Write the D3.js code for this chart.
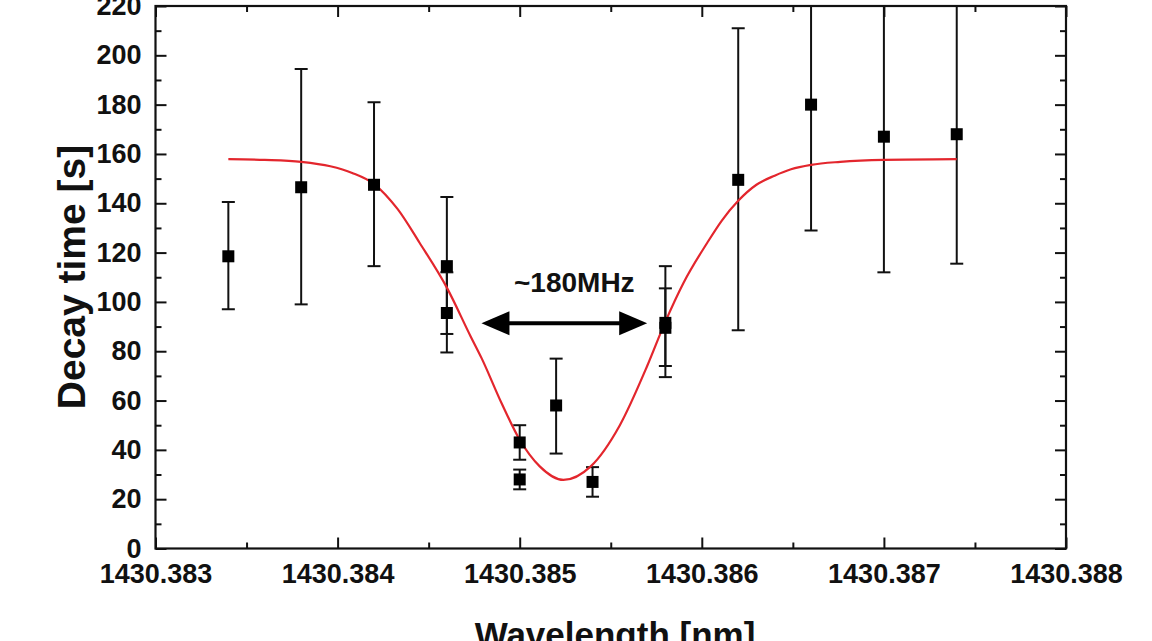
<!DOCTYPE html>
<html lang="en">
<head>
	<title>decay time vs wavelength</title>
	<meta charset="utf-8" />
	<script src="https://cdnjs.cloudflare.com/ajax/libs/d3/7.8.5/d3.min.js"></script>
	<style>
		body { margin: 0; background: #fff; }
		svg { display: block; font-family: "Liberation Sans", Arial, sans-serif; }
	</style>
</head>
<body>
	<svg width="1152" height="641"></svg>
	<script>
		// measured points (two measurements at some wavelengths)
		let wavelength = [1430.3834, 1430.3838, 1430.3842, 1430.3846, 1430.3846, 1430.3850, 1430.3850,
			1430.3852, 1430.3854, 1430.3858, 1430.3858, 1430.3862, 1430.3866, 1430.3870, 1430.3874];
		let decay = [118.5, 146.5, 147.5, 114.5, 95.5, 43, 28, 58, 27, 91.5, 89.5, 149.5, 180, 167, 168];
		let errLow = [97, 99, 114.5, 87, 79.5, 36, 24, 38.5, 21, 69.5, 74, 88.5, 129, 112, 115.5];
		let errHigh = [140.5, 194.5, 181, 142.5, 112, 50, 32, 77, 33, 114.5, 105.5, 211, 232, 222.5, 220.5];

		// fitted curve
		let fitWavelength = [1430.38340, 1430.38360, 1430.38380, 1430.38396, 1430.38408, 1430.38420,
			1430.38433, 1430.38445, 1430.38460, 1430.38473, 1430.38479, 1430.38490, 1430.38500,
			1430.38511, 1430.38524, 1430.38539, 1430.38555, 1430.38570, 1430.38580, 1430.38590,
			1430.38603, 1430.38611, 1430.38620, 1430.38630, 1430.38640, 1430.38649, 1430.38660,
			1430.38676, 1430.38700, 1430.38740];
		let fitDecay = [157.9, 157.6, 156.8, 155.0, 152.3, 147.8, 137.6, 124.0, 105.8, 86.1, 77.3,
			59.0, 44.1, 33.3, 27.8, 33.3, 50.0, 74.0, 92.0, 107.8, 124.0, 133.0, 141.0, 147.5, 151.2,
			153.8, 155.6, 156.8, 157.6, 157.9];

		let xTicks = [1430.383, 1430.384, 1430.385, 1430.386, 1430.387, 1430.388];
		let yTicks = [0, 20, 40, 60, 80, 100, 120, 140, 160, 180, 200, 220];

		// FWHM annotation
		let arrowSpan = [1430.38479, 1430.38570];
		let arrowLevel = 91.3;
		let arrowText = '~180MHz';

		let svg = d3.select('svg');
		let pLeft = 155.5, pRight = 1066, pTop = 6, pBottom = 548.5;

		let x = d3.scaleLinear().domain([1430.383, 1430.388]).range([pLeft, pRight]);
		let y = d3.scaleLinear().domain([0, 220]).range([pBottom, pTop]);

		svg.append('clipPath').attr('id', 'plot')
			.append('rect')
			.attr('x', pLeft).attr('y', pTop)
			.attr('width', pRight - pLeft).attr('height', pBottom - pTop);

		// minor ticks at the halfway points
		let xMinor = d3.range(1430.3835, 1430.388, 0.001);
		let yMinor = d3.range(10, 220, 20);

		function drawAxis(axis, tr) {
			return svg.append('g')
				.attr('transform', tr)
				.call(axis)
				.call(g => g.select('.domain').remove())
				.call(g => g.selectAll('line').attr('stroke', '#111').attr('stroke-width', 2));
		}

		let fmtX = d3.format('.3f');
		// bottom
		drawAxis(d3.axisBottom(x).tickValues(xTicks).tickSize(-11).tickPadding(15).tickFormat(fmtX), `translate(0,${pBottom})`);
		drawAxis(d3.axisBottom(x).tickValues(xMinor).tickSize(-6).tickFormat(''), `translate(0,${pBottom})`);
		// top
		drawAxis(d3.axisTop(x).tickValues(xTicks).tickSize(-11).tickFormat(''), `translate(0,${pTop})`);
		drawAxis(d3.axisTop(x).tickValues(xMinor).tickSize(-6).tickFormat(''), `translate(0,${pTop})`);
		// left
		drawAxis(d3.axisLeft(y).tickValues(yTicks).tickSize(-11).tickPadding(14), `translate(${pLeft},0)`);
		drawAxis(d3.axisLeft(y).tickValues(yMinor).tickSize(-6).tickFormat(''), `translate(${pLeft},0)`);
		// right
		drawAxis(d3.axisRight(y).tickValues(yTicks).tickSize(-11).tickFormat(''), `translate(${pRight},0)`);
		drawAxis(d3.axisRight(y).tickValues(yMinor).tickSize(-6).tickFormat(''), `translate(${pRight},0)`);

		svg.selectAll('.tick text')
			.attr('font-family', '"Liberation Sans", Arial, sans-serif')
			.attr('font-size', 27)
			.attr('font-weight', 'bold')
			.attr('fill', '#111');

		svg.append('rect')
			.attr('x', pLeft).attr('y', pTop)
			.attr('width', pRight - pLeft).attr('height', pBottom - pTop)
			.attr('fill', 'none')
			.attr('stroke', '#111')
			.attr('stroke-width', 2.2);

		let plot = svg.append('g').attr('clip-path', 'url(#plot)');

		let pts = wavelength.map((w, i) => ({ w: w, v: decay[i], lo: errLow[i], hi: errHigh[i] }));

		// error bars
		let bars = plot.selectAll('g.err')
			.data(pts)
			.enter()
			.append('g')
			.attr('class', 'err')
			.attr('stroke', '#111')
			.attr('stroke-width', 2);
		bars.append('line')
			.attr('x1', d => x(d.w)).attr('x2', d => x(d.w))
			.attr('y1', d => y(d.lo)).attr('y2', d => y(d.hi));
		bars.append('line')
			.attr('x1', d => x(d.w) - 6.5).attr('x2', d => x(d.w) + 6.5)
			.attr('y1', d => y(d.lo)).attr('y2', d => y(d.lo));
		bars.append('line')
			.attr('x1', d => x(d.w) - 6.5).attr('x2', d => x(d.w) + 6.5)
			.attr('y1', d => y(d.hi)).attr('y2', d => y(d.hi));

		// fit
		let line = d3.line()
			.x(d => x(d[0]))
			.y(d => y(d[1]))
			.curve(d3.curveMonotoneX);
		plot.append('path')
			.datum(fitWavelength.map((w, i) => [w, fitDecay[i]]))
			.attr('d', line)
			.attr('fill', 'none')
			.attr('stroke', '#e3262d')
			.attr('stroke-width', 2.2);

		// markers
		plot.selectAll('rect.pt')
			.data(pts)
			.enter()
			.append('rect')
			.attr('class', 'pt')
			.attr('x', d => x(d.w) - 6)
			.attr('y', d => y(d.v) - 6)
			.attr('width', 12)
			.attr('height', 12)
			.attr('fill', '#000');

		// double arrow
		let ax1 = x(arrowSpan[0]), ax2 = x(arrowSpan[1]), ay = y(arrowLevel);
		let headLen = 28, headHalf = 12;
		svg.append('line')
			.attr('x1', ax1 + headLen - 4).attr('x2', ax2 - headLen + 4)
			.attr('y1', ay).attr('y2', ay)
			.attr('stroke', '#000')
			.attr('stroke-width', 4);
		svg.append('path')
			.attr('d', `M${ax1},${ay} L${ax1 + headLen},${ay - headHalf} L${ax1 + headLen},${ay + headHalf} Z`)
			.attr('fill', '#000');
		svg.append('path')
			.attr('d', `M${ax2},${ay} L${ax2 - headLen},${ay - headHalf} L${ax2 - headLen},${ay + headHalf} Z`)
			.attr('fill', '#000');
		svg.append('text')
			.attr('x', (ax1 + ax2) / 2 + 10)
			.attr('y', ay - 31)
			.attr('text-anchor', 'middle')
			.attr('font-size', 28)
			.attr('font-weight', 'bold')
			.attr('fill', '#111')
			.text(arrowText);

		// axis titles
		svg.append('text')
			.attr('transform', `translate(85,277) rotate(-90)`)
			.attr('text-anchor', 'middle')
			.attr('font-size', 39)
			.attr('font-weight', 'bold')
			.attr('fill', '#111')
			.text('Decay time [s]');
		svg.append('text')
			.attr('x', 615)
			.attr('y', 647)
			.attr('text-anchor', 'middle')
			.attr('font-size', 35)
			.attr('font-weight', 'bold')
			.attr('fill', '#111')
			.text('Wavelength [nm]');
	</script>
</body>
</html>
